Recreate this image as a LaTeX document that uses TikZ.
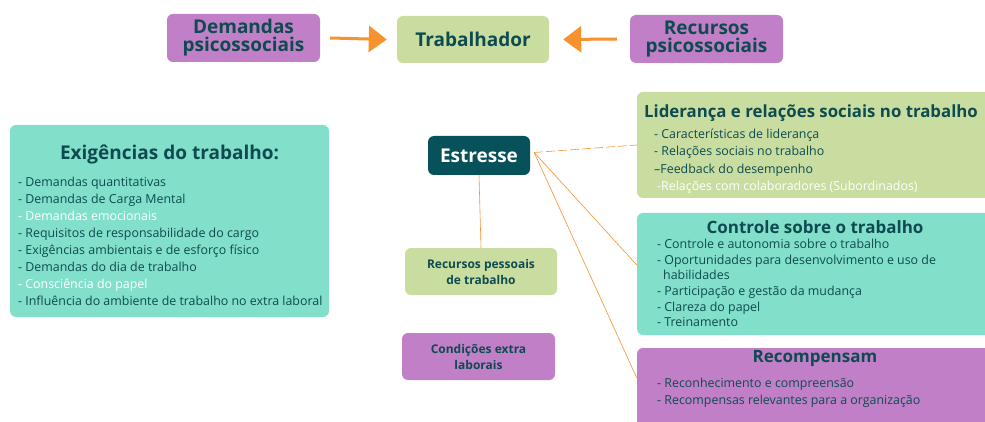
\documentclass[tikz,border=0pt]{standalone}
\usepackage{fontspec}
\setmainfont{Open Sans}
\usepackage{xcolor}
\usetikzlibrary{arrows.meta, positioning, calc}

\definecolor{roxo}{HTML}{C07FC6}
\definecolor{verde}{HTML}{C9DDA0}
\definecolor{turquesa}{HTML}{82DFC9}
\definecolor{petroleo}{HTML}{07525A}
\definecolor{laranja}{HTML}{F7922F}
\definecolor{textoesc}{HTML}{0E4B50}

\tikzset{
    caixa/.style={rounded corners=6pt, inner sep=0pt, text=textoesc, align=center},
    titulo/.style={font=\bfseries\fontsize{17}{18}\selectfont},
    grande/.style={font=\bfseries\fontsize{19}{18}\selectfont},
    subtitulo/.style={font=\bfseries\fontsize{12}{16}\selectfont},
    lista/.style={font=\fontsize{12.4}{17}\selectfont, text=textoesc, align=left, anchor=north west, inner sep=0pt},
    seta/.style={laranja, line width=3pt, -{Triangle[length=18pt, width=26pt]}},
    ligacao/.style={laranja, line width=0.6pt}
}

\begin{document}
\begin{tikzpicture}[x=1pt, y=-1pt]
    \useasboundingbox (0,0) rectangle (985,422);
    \clip (0,0) rectangle (985,422);

    % linha de cima
    \node[caixa, grande, fill=roxo, minimum width=153pt, minimum height=48pt] (demandas) at (243.5,38) {Demandas\\psicossociais};
    \node[caixa, grande, fill=verde, minimum width=152pt, minimum height=47pt] (trabalhador) at (473,39.5) {Trabalhador};
    \node[caixa, grande, fill=roxo, minimum width=153pt, minimum height=48pt] (recursos) at (706.5,39) {Recursos\\psicossociais};
    \draw[seta] ([xshift=10pt]demandas.east) -- ([xshift=-10pt]trabalhador.west);
    \draw[seta] ([xshift=-13pt]recursos.west) -- ([xshift=14pt]trabalhador.east);

    % exigencias
    \node[caixa, fill=turquesa, minimum width=319pt, minimum height=192pt] (exigencias) at (169.5,221) {};
    \node[grande, text=textoesc] (exigtitulo) at (169.5,155) {Exigências do trabalho:};
    \node[lista] (exiglista) at (18,177) {- Demandas quantitativas\\
        - Demandas de Carga Mental\\
        \textcolor{white}{- Demandas emocionais}\\
        - Requisitos de responsabilidade do cargo\\
        - Exigências ambientais e de esforço físico\\
        - Demandas do dia de trabalho\\
        \textcolor{white}{- Consciência do papel}\\
        - Influência do ambiente de trabalho no extra laboral};

    % centro
    \node[caixa, grande, fill=petroleo, text=white, minimum width=102pt, minimum height=39pt] (estresse) at (479,155.5) {Estresse};
    \node[caixa, subtitulo, fill=verde, minimum width=152pt, minimum height=47pt] (pessoais) at (481,271.5) {Recursos pessoais\\de trabalho};
    \node[caixa, subtitulo, fill=roxo, minimum width=153pt, minimum height=47pt] (extra) at (478.5,356.5) {Condições extra\\laborais};

    % lado direito
    \node[caixa, fill=verde, minimum width=363pt, minimum height=106pt] (lideranca) at (818.5,145) {};
    \node[text=textoesc, font=\bfseries\fontsize{16.8}{18}\selectfont, anchor=west, inner sep=0pt] (lidtitulo) at (644,113) {Liderança e relações sociais no trabalho};
    \node[lista, font=\fontsize{12.4}{17.3}\selectfont] (lidlista) at (654,129) {- Características de liderança\\
        - Relações sociais no trabalho\\
        --Feedback do desempenho\\
        \textcolor{white}{\hspace*{3pt}-Relações com colaboradores (Subordinados)}};

    \node[caixa, fill=turquesa, minimum width=363pt, minimum height=122pt] (controle) at (818.5,274) {};
    \node[titulo, text=textoesc] (contitulo) at (815,227) {Controle sobre o trabalho};
    \node[lista, font=\fontsize{12.4}{15.6}\selectfont] (conlista) at (657,239) {- Controle e autonomia sobre o trabalho\\
        - Oportunidades para desenvolvimento e uso de\\
        \hspace*{6pt}habilidades\\
        - Participação e gestão da mudança\\
        - Clareza do papel\\
        - Treinamento};

    \node[caixa, fill=roxo, minimum width=363pt, minimum height=92pt] (recompensa) at (818.5,394) {};
    \node[titulo, text=textoesc] (rectitulo) at (815,358) {Recompensam};
    \node[lista] (reclista) at (657,378) {- Reconhecimento e compreensão\\
        - Recompensas relevantes para a organização};

    % ligacoes do estresse
    \coordinate (saida) at ([xshift=4pt, yshift=3pt]estresse.east);
    \draw[ligacao] (estresse.south) -- (pessoais.north);
    \draw[ligacao, dash pattern=on 9pt off 3pt] (saida) -- (lideranca.west);
    \draw[ligacao] (saida) -- ([yshift=9pt]controle.west);
    \draw[ligacao] (saida) -- ([yshift=16pt]recompensa.west);
\end{tikzpicture}
\end{document}
